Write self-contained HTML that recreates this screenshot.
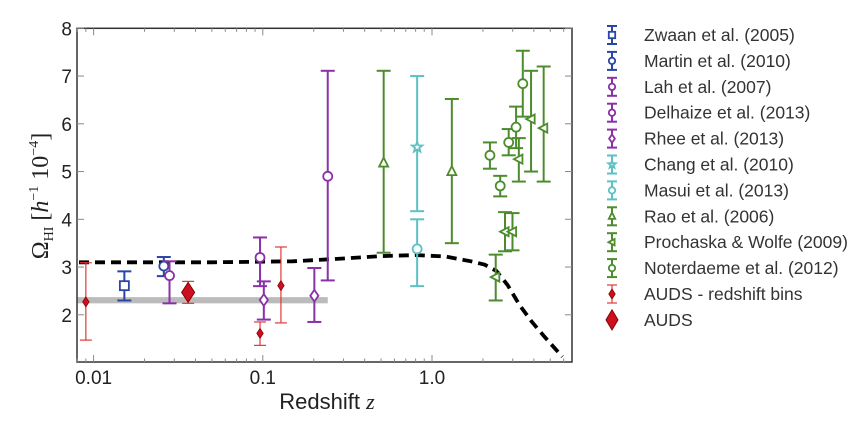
<!DOCTYPE html>
<html><head><meta charset="utf-8"><style>
body{margin:0;background:#fff;}
svg text{font-family:"Liberation Sans",sans-serif;}
svg text.serif, svg text.serif tspan{font-family:"Liberation Serif",serif;}
</style></head><body>
<svg id="chart" width="865" height="422" viewBox="0 0 865 422" xmlns="http://www.w3.org/2000/svg">
<g id="plot"></g>
<g id="legend"></g>
</svg>
<script>
const yTicks=[2,3,4,5,6,7,8];
const xTickVals=[0.01,0.1,1.0];
const xTickLabels=["0.01","0.1","1.0"];
const bandRange=[2.24,2.37,0.242];
const curveZ=[0.0082,0.05,0.15,0.3,0.5,0.8,1.2,1.7,2.05,2.4,2.8,3.3,3.9,4.6,5.9];
const curveY=[3.10,3.10,3.12,3.18,3.23,3.25,3.22,3.12,3.05,2.92,2.62,2.20,1.85,1.55,1.12];
// series: z, value, upper, lower
const zwaanZ=[0.0152],zwaanV=[2.61],zwaanHi=[2.91],zwaanLo=[2.30];
const martinZ=[0.026],martinV=[3.02],martinHi=[3.21],martinLo=[2.81];
const lahZ=[0.242],lahV=[4.90],lahHi=[7.11],lahLo=[2.72];
const delhZ=[0.0281,0.0963],delhV=[2.82,3.20],delhHi=[3.12,3.62],delhLo=[2.24,2.60];
const rheeZ=[0.1014,0.2017],rheeV=[2.31,2.40],rheeHi=[2.70,2.98],rheeLo=[1.90,1.85];
const changZ=[0.817],changV=[5.51],changHi=[7.0],changLo=[4.17];
const masuiZ=[0.817],masuiV=[3.38],masuiHi=[4.0],masuiLo=[2.6];
const raoZ=[0.518,1.31],raoV=[5.18,5.0],raoHi=[7.11,6.52],raoLo=[3.30,3.5];
const prochZ=[2.38,2.70,2.99,3.26,3.85,4.57],prochV=[2.79,3.74,3.74,5.26,6.10,5.91],prochHi=[3.26,4.15,4.13,5.70,7.11,7.2],prochLo=[2.30,3.33,3.35,4.79,5.0,4.79];
const notZ=[2.20,2.53,2.84,3.14,3.44],notV=[5.34,4.70,5.61,5.93,6.84],notHi=[5.61,4.91,5.89,6.36,7.53],notLo=[5.06,4.48,5.34,5.49,6.15];
const audsBinZ=[0.0090,0.0963,0.128],audsBinV=[2.27,1.61,2.61],audsBinHi=[3.09,1.85,3.42],audsBinLo=[1.47,1.36,1.83];
const audsZ=[0.0362],audsV=[2.47],audsHi=[2.70],audsLo=[2.24];
const legendLabels=["Zwaan et al. (2005)","Martin et al. (2010)","Lah et al. (2007)","Delhaize et al. (2013)","Rhee et al. (2013)","Chang et al. (2010)","Masui et al. (2013)","Rao et al. (2006)","Prochaska & Wolfe (2009)","Noterdaeme et al. (2012)","AUDS - redshift bins","AUDS"];

const NS="http://www.w3.org/2000/svg";
const L=77,R=572,T=28.3,B=362;
const X=z=>432+169.2*Math.log10(z);
const Y=v=>28.3+(8-v)*47.75;
const plot=document.getElementById('plot'),leg=document.getElementById('legend');
function mk(tag,attrs,parent){const e=document.createElementNS(NS,tag);for(const k in attrs)e.setAttribute(k,attrs[k]);parent.appendChild(e);return e;}

let band=mk('rect',{x:L,y:Y(bandRange[1]),width:X(bandRange[2])-L,height:Y(bandRange[0])-Y(bandRange[1]),fill:'#bbbbbb'},plot);


let fr=mk('rect',{x:L,y:T,width:R-L,height:B-T,fill:'none',stroke:'#333','stroke-width':1.5},plot);


yTicks.forEach(v=>{
  mk('line',{x1:L,x2:L+7,y1:Y(v),y2:Y(v),stroke:'#888'},plot);
  mk('line',{x1:R-7,x2:R,y1:Y(v),y2:Y(v),stroke:'#888'},plot);
  let t=mk('text',{x:72,y:Y(v)+7,'text-anchor':'end','font-size':19,fill:'#222'},plot);t.textContent=v;
  
  
});
for(let d=-3;d<=0;d++)for(let m=1;m<10;m++){const z=m*Math.pow(10,d);const x=X(z);if(x<L||x>R)continue;const len=m==1?7:3.5;
  mk('line',{x1:x,x2:x,y1:B,y2:B-len,stroke:'#888'},plot);mk('line',{x1:x,x2:x,y1:T,y2:T+len,stroke:'#888'},plot);}
xTickVals.forEach((z,i)=>{let t=mk('text',{x:X(z),y:B+22,'text-anchor':'middle','font-size':19,fill:'#222'},plot);t.textContent=xTickLabels[i];
  
  });
let xl=mk('text',{x:327,y:409,'text-anchor':'middle','font-size':22,fill:'#222'},plot);
xl.innerHTML='Redshift <tspan style="font-family:\'Liberation Serif\',serif;font-style:italic">z</tspan>';


let yl=mk('text',{x:0,y:0,transform:'translate(48,196) rotate(-90)','text-anchor':'middle','font-size':24,fill:'#222','class':'serif'},plot);
yl.innerHTML='Ω<tspan font-size="14" dy="5">HI</tspan><tspan dy="-5"> [</tspan><tspan font-style="italic">h</tspan><tspan font-size="14" dy="-10">−1</tspan><tspan dy="10">  10</tspan><tspan font-size="14" dy="-10">−4</tspan><tspan dy="10">]</tspan>';


let pts=curveZ.map((z,i)=>X(z).toFixed(1)+','+Y(curveY[i]).toFixed(1)).join(' ');
let cv=mk('polyline',{points:pts,fill:'none',stroke:'#000','stroke-width':3.8,'stroke-dasharray':'10,6'},plot);



function marker(g,shape,x,y,c,s){
  s=s||4.5;const a={fill:shape=='dia'||shape=='bigdia'?'#cc1020':'#fff',stroke:shape=='bigdia'||shape=='dia'?'#800':c,'stroke-width':1.8};
  if(shape=='sq')mk('rect',Object.assign({x:x-s,y:y-s,width:2*s,height:2*s},a),g);
  else if(shape=='circ')mk('circle',Object.assign({cx:x,cy:y,r:s},a),g);
  else if(shape=='pdia')mk('polygon',Object.assign({points:`${x},${y-s*1.3} ${x+s*0.9},${y} ${x},${y+s*1.3} ${x-s*0.9},${y}`},a),g);
  else if(shape=='tri')mk('polygon',Object.assign({points:`${x},${y-s*1.2} ${x+s},${y+s*0.8} ${x-s},${y+s*0.8}`},a),g);
  else if(shape=='ltri')mk('polygon',Object.assign({points:`${x-s*1.1},${y} ${x+s*0.8},${y-s} ${x+s*0.8},${y+s}`},a),g);
  else if(shape=='star'){let p=[];for(let k=0;k<10;k++){const r=k%2?s*0.5:s*1.2,an=-Math.PI/2+k*Math.PI/5;p.push((x+r*Math.cos(an)).toFixed(1)+','+(y+r*Math.sin(an)).toFixed(1));}mk('polygon',Object.assign({points:p.join(' ')},a),g);}
  else if(shape=='dia'){a['stroke-width']=0.8;mk('polygon',Object.assign({points:`${x},${y-5} ${x+3.2},${y} ${x},${y+5} ${x-3.2},${y}`},a),g);}
  else if(shape=='bigdia'){a['stroke-width']=1;mk('polygon',Object.assign({points:`${x},${y-10} ${x+6.5},${y} ${x},${y+10} ${x-6.5},${y}`},a),g);}
}
function errbar(g,x,yh,yl,c,w,cap){mk('line',{x1:x,x2:x,y1:yh,y2:yl,stroke:c,'stroke-width':w},g);
  mk('line',{x1:x-cap,x2:x+cap,y1:yh,y2:yh,stroke:c,'stroke-width':w},g);mk('line',{x1:x-cap,x2:x+cap,y1:yl,y2:yl,stroke:c,'stroke-width':w},g);}
const series=[
 ['zwaan',zwaanZ,zwaanV,zwaanHi,zwaanLo,'#2a45a5','sq'],
 ['martin',martinZ,martinV,martinHi,martinLo,'#2a45a5','circ'],
 ['lah',lahZ,lahV,lahHi,lahLo,'#8a30a8','circ'],
 ['delhaize',delhZ,delhV,delhHi,delhLo,'#8a30a8','circ'],
 ['rhee',rheeZ,rheeV,rheeHi,rheeLo,'#8a30a8','pdia'],
 ['chang',changZ,changV,changHi,changLo,'#5cc0c4','star'],
 ['masui',masuiZ,masuiV,masuiHi,masuiLo,'#5cc0c4','circ'],
 ['rao',raoZ,raoV,raoHi,raoLo,'#4c8c2c','tri'],
 ['prochaska',prochZ,prochV,prochHi,prochLo,'#4c8c2c','ltri'],
 ['noterdaeme',notZ,notV,notHi,notLo,'#4c8c2c','circ'],
 ['auds-bins',audsBinZ,audsBinV,audsBinHi,audsBinLo,'#e03838','dia'],
 ['auds',audsZ,audsV,audsHi,audsLo,'#e03838','bigdia']];
series.forEach(s=>{
  const g=mk('g',{},plot);
  
  
  s[1].forEach((z,i)=>{const x=X(z);
    const thin=s[6]=='dia'||s[6]=='bigdia';
    errbar(g,x,Y(s[3][i]),Y(s[4][i]),s[5],thin?1.2:2,thin?6:7);
    marker(g,s[6],x,Y(s[2][i]),s[5]);});
});
series.forEach((s,i)=>{
  const y=35+i*25.9,x=612;
  const g=mk('g',{},leg);
  
  
  const thin=s[6]=='dia'||s[6]=='bigdia';
  if(s[6]!='bigdia')errbar(g,x,y-9,y+9,s[5],thin?1.2:2,5);
  if(s[6]=='bigdia'){mk('polygon',{points:`${x},${y-10} ${x+6},${y} ${x},${y+10} ${x-6},${y}`,fill:'#cc1020',stroke:'#800'},g);}
  else marker(g,s[6],x,y,s[5],3.2);
  const t=mk('text',{x:644,y:y+6,'font-size':17.5,fill:'#333'},g);t.textContent=legendLabels[i];
});
</script>
</body></html>
